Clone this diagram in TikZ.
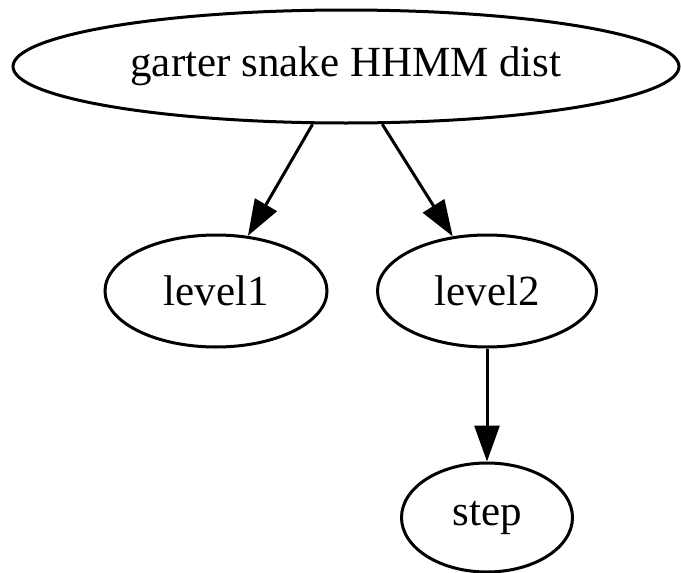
\documentclass[tikz,border=0pt]{standalone}
\usepackage{fontspec}
\setmainfont{Liberation Serif}
\usetikzlibrary{shapes.geometric,arrows.meta}
\begin{document}
\begin{tikzpicture}[x=1pt,y=-1pt,
  gnode/.style={ellipse,draw,line width=3pt,inner sep=0pt,font=\fontsize{43}{50}\selectfont},
  gedge/.style={line width=3pt,-{Triangle[length=36pt,width=25pt]}}]
\useasboundingbox (0,0) rectangle (681,573);
\node[gnode,minimum width=666pt,minimum height=113pt] (top) at (346,66.5) {garter snake HHMM dist};
\node[gnode,minimum width=222pt,minimum height=112pt] (l1) at (216,291) {level1};
\node[gnode,minimum width=219pt,minimum height=112pt] (l2) at (487,291) {level2};
\node[gnode,minimum width=171pt,minimum height=109pt] (st) at (487,517.5) {step};
\draw[gedge] (top) -- (l1);
\draw[gedge] (top) -- (l2);
\draw[gedge] (l2) -- (st);
\end{tikzpicture}
\end{document}
